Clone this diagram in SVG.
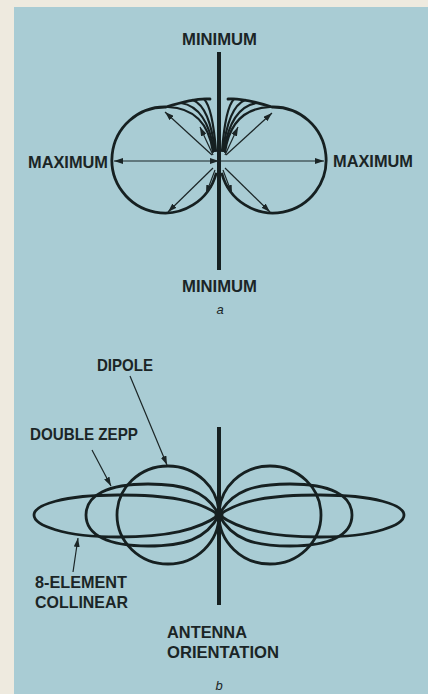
<svg xmlns="http://www.w3.org/2000/svg" width="428" height="694" viewBox="0 0 428 694">
  <defs>
    <marker id="ah" viewBox="0 0 9 6" refX="9" refY="3" markerWidth="9" markerHeight="6" markerUnits="userSpaceOnUse" orient="auto-start-reverse">
      <path d="M0,0 L9,3 L0,6 z" fill="#1b2526"/>
    </marker>
  </defs>
  <style>
    .lbl { font-family: "Liberation Sans", Arial, sans-serif; font-weight: bold; font-size: 16.5px; fill: #1b2526; }
    .cap { font-family: "Liberation Sans", Arial, sans-serif; font-style: italic; font-size: 13px; fill: #1b2526; }
    .curve { fill: none; stroke: #162021; stroke-width: 2.8; stroke-linejoin: round; stroke-linecap: round; }
    .fan { fill: none; stroke: #162021; stroke-width: 2.2; stroke-linecap: round; }
    .axis { stroke: #162021; stroke-width: 4; stroke-linecap: butt; }
    .arrow { fill: none; stroke: #1b2526; stroke-width: 1.2; marker-end: url(#ah); }
  </style>

  <rect x="0" y="0" width="428" height="694" fill="#eeeadf"/>
  <rect x="14" y="7" width="414" height="687" fill="#a9ccd4"/>

  <!-- Figure a -->
  <g id="a-axis"><line class="axis" x1="219" y1="52" x2="219" y2="270"/></g>

  <g id="a-lobe-left">
    <path class="curve" d="M 216,174 A 53 53 0 1 1 166,107 C 185,101 200,98 210,99"/>
    <path class="fan" d="M 168,107 C 195,108 209,125 213,152"/>
    <path class="fan" d="M 181,103 C 200,106 210,125 214,151"/>
    <path class="fan" d="M 193,100 C 205,105 212,126 215,151"/>
    <path class="fan" d="M 204,99 C 211,106 214,126 216,151"/>
  </g>
  <g id="a-lobe-right" transform="translate(438,0) scale(-1,1)">
    <path class="curve" d="M 216,174 A 53 53 0 1 1 166,107 C 185,101 200,98 210,99"/>
    <path class="fan" d="M 168,107 C 195,108 209,125 213,152"/>
    <path class="fan" d="M 181,103 C 200,106 210,125 214,151"/>
    <path class="fan" d="M 193,100 C 205,105 212,126 215,151"/>
    <path class="fan" d="M 204,99 C 211,106 214,126 216,151"/>
  </g>

  <g id="a-label-min-top"><text class="lbl" x="182" y="45" textLength="75" lengthAdjust="spacingAndGlyphs">MINIMUM</text></g>
  <g id="a-label-max-left"><text class="lbl" x="28" y="168" textLength="80" lengthAdjust="spacingAndGlyphs">MAXIMUM</text></g>
  <g id="a-label-max-right"><text class="lbl" x="333" y="167" textLength="80" lengthAdjust="spacingAndGlyphs">MAXIMUM</text></g>
  <g id="a-label-min-bottom"><text class="lbl" x="182" y="292" textLength="75" lengthAdjust="spacingAndGlyphs">MINIMUM</text></g>
  <g id="a-caption"><text class="cap" x="220" y="314" text-anchor="middle">a</text></g>

  <g id="a-connectors">
    <line class="arrow" x1="219" y1="161" x2="114" y2="161" style="marker-start:url(#ah)"/>
    <line class="arrow" x1="219" y1="161" x2="324" y2="161"/>
    <line class="arrow" x1="212" y1="155" x2="165" y2="112"/>
    <line class="arrow" x1="213" y1="155" x2="200" y2="127"/>
    <line class="arrow" x1="225" y1="155" x2="238" y2="127"/>
    <line class="arrow" x1="226" y1="155" x2="272" y2="113"/>
    <line class="arrow" x1="213" y1="168" x2="168" y2="212"/>
    <line class="arrow" x1="215" y1="170" x2="206" y2="194"/>
    <line class="arrow" x1="223" y1="170" x2="232" y2="194"/>
    <line class="arrow" x1="225" y1="168" x2="270" y2="212"/>
  </g>

  <!-- Figure b -->
  <g id="b-axis"><line class="axis" x1="219" y1="427" x2="219" y2="605"/></g>

  <g id="b-dipole">
    <ellipse class="curve" cx="270" cy="515" rx="51" ry="49"/>
    <ellipse class="curve" cx="168" cy="515" rx="51" ry="49"/>
  </g>
  <g id="b-double-zepp">
    <path class="curve" d="M 219,515 C 232,490 255,484 290,484 C 330,484 352,495 352,515 C 352,535 330,546 290,546 C 255,546 232,540 219,515 Z"/>
    <path class="curve" d="M 219,515 C 206,490 183,484 148,484 C 108,484 86,495 86,515 C 86,535 108,546 148,546 C 183,546 206,540 219,515 Z"/>
  </g>
  <g id="b-collinear">
    <path class="curve" d="M 219,515 C 240,500 270,495 320,495 C 375,495 404,505 404,515 C 404,525 375,537 320,537 C 270,537 240,530 219,515 Z"/>
    <path class="curve" d="M 219,515 C 198,500 168,495 118,495 C 63,495 34,505 34,515 C 34,525 63,537 118,537 C 168,537 198,530 219,515 Z"/>
  </g>
  <g id="b-center"><ellipse cx="219" cy="515" rx="4.5" ry="5" fill="#162021"/></g>

  <g id="b-label-dipole"><text class="lbl" x="97" y="371" textLength="56" lengthAdjust="spacingAndGlyphs">DIPOLE</text></g>
  <g id="b-label-double-zepp"><text class="lbl" x="30" y="440" textLength="108" lengthAdjust="spacingAndGlyphs">DOUBLE ZEPP</text></g>
  <g id="b-label-collinear">
    <text class="lbl" x="35" y="588" textLength="92" lengthAdjust="spacingAndGlyphs">8-ELEMENT</text>
    <text class="lbl" x="35" y="608" textLength="93" lengthAdjust="spacingAndGlyphs">COLLINEAR</text>
  </g>
  <g id="b-label-orientation">
    <text class="lbl" x="167" y="638" textLength="80" lengthAdjust="spacingAndGlyphs">ANTENNA</text>
    <text class="lbl" x="167" y="658" textLength="112" lengthAdjust="spacingAndGlyphs">ORIENTATION</text>
  </g>
  <g id="b-caption"><text class="cap" x="219" y="690" text-anchor="middle">b</text></g>

  <g id="b-connectors">
    <line class="arrow" x1="130" y1="376" x2="167" y2="465"/>
    <line class="arrow" x1="92" y1="450" x2="111" y2="486"/>
    <line class="arrow" x1="73" y1="572" x2="78" y2="538"/>
  </g>
</svg>
